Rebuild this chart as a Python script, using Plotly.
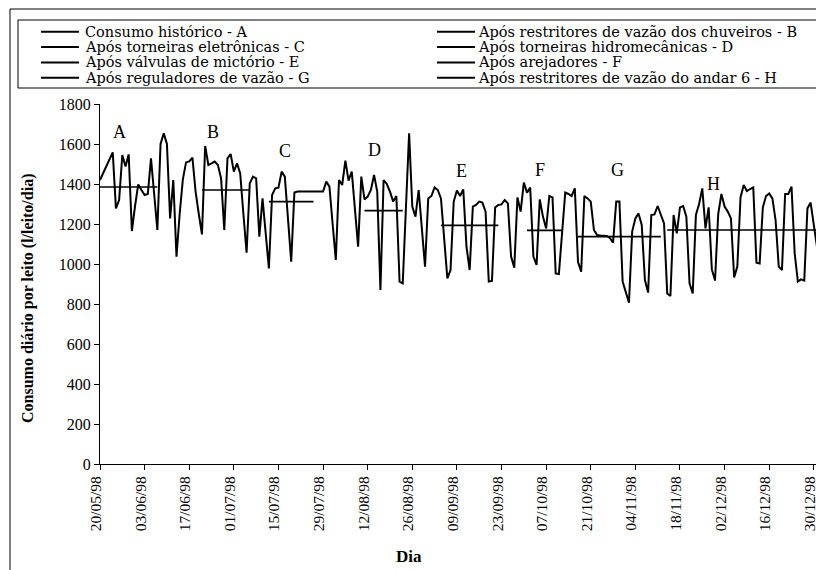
import pandas as pd
import plotly.graph_objects as go

# ---------------- data ----------------
start_date = "1998-05-20"
# daily consumption per bed (l/leito/dia), 20/05/98 ... 31/12/98
consumo = [
    1420, 1455, 1490, 1525, 1558, 1278, 1320, 1545, 1487, 1548,
    1165, 1290, 1398, 1370, 1345, 1350, 1528, 1350, 1170, 1600,
    1653, 1600, 1228, 1420, 1037, 1250, 1423, 1508, 1513, 1532,
    1362, 1250, 1148, 1590, 1495, 1503, 1512, 1495, 1428, 1170,
    1528, 1550, 1462, 1503, 1453, 1250, 1057, 1403, 1437, 1428,
    1137, 1328, 1130, 978, 1345, 1378, 1382, 1462, 1437, 1230,
    1012, 1357, 1362, 1362, 1362, 1362, 1362, 1362, 1362, 1362,
    1362, 1412, 1387, 1200, 1020, 1420, 1395, 1517, 1417, 1462,
    1270, 1087, 1437, 1323, 1337, 1370, 1445, 1362, 870, 1420,
    1400, 1362, 1312, 1340, 912, 903, 1280, 1653, 1287, 1237,
    1370, 1180, 987, 1328, 1340, 1383, 1370, 1328, 1130, 928,
    970, 1312, 1368, 1340, 1373, 1087, 970, 1287, 1295, 1312,
    1307, 1262, 912, 915, 1283, 1295, 1298, 1320, 1303, 1037,
    982, 1333, 1262, 1407, 1357, 1382, 1037, 995, 1323, 1237,
    1178, 1340, 1333, 953, 950, 1150, 1357, 1350, 1340, 1378,
    1010, 962, 1340, 1328, 1312, 1170, 1145, 1142, 1142, 1140,
    1130, 1107, 1312, 1312, 912, 860, 807, 1162, 1228, 1253,
    1195, 920, 857, 1245, 1248, 1290, 1250, 1203, 853, 840,
    1245, 1153, 1283, 1290, 1237, 903, 853, 1245, 1300, 1378,
    1178, 1283, 973, 917, 1250, 1350, 1287, 1262, 1228, 933,
    987, 1333, 1395, 1365, 1375, 1383, 1007, 1003, 1283, 1340,
    1353, 1328, 1220, 987, 970, 1350, 1350, 1387, 1053, 912,
    923, 917, 1278, 1307, 1195, 1087,
]

# period averages
periodo_letra = ["A", "B", "C", "D", "E", "F", "G", "H"]
periodo_nome = [
    "Consumo histórico - A",
    "Após restritores de vazão dos chuveiros - B",
    "Após torneiras eletrônicas - C",
    "Após torneiras hidromecânicas - D",
    "Após válvulas de mictório - E",
    "Após arejadores - F",
    "Após reguladores de vazão - G",
    "Após restritores de vazão do andar 6 - H",
]
periodo_inicio = [0, 32, 53, 83, 107, 134, 150, 178]   # day index
periodo_fim = [18, 47, 67, 95, 125, 145, 176, 225]     # day index
periodo_media = [1385, 1370, 1312, 1267, 1193, 1168, 1137, 1170]

# label positions for the letters (day index, value)
letra_dia = [6, 35.5, 58, 86, 113.5, 138, 162.5, 192.5]
letra_valor = [1660, 1660, 1565, 1570, 1465, 1470, 1470, 1400]

y_ticks = [0, 200, 400, 600, 800, 1000, 1200, 1400, 1600, 1800]

titulo_x = "Dia"
titulo_y = "Consumo diário por leito (l/leito/dia)"

# ---------------- figure ----------------
FONT = "Liberation Serif, Times New Roman, serif"
FONT_LEG = "DejaVu Serif, Liberation Serif, serif"
base = pd.Timestamp(start_date)
dias = [base + pd.Timedelta(days=i) for i in range(len(consumo))]

fig = go.Figure()
fig.add_trace(go.Scatter(
    x=dias, y=consumo, mode="lines",
    line=dict(color="black", width=2),
    showlegend=False, hoverinfo="x+y",
))

for nome, i0, i1, m in zip(periodo_nome, periodo_inicio, periodo_fim, periodo_media):
    xs = [base + pd.Timedelta(days=d) for d in range(i0, i1 + 1)]
    fig.add_trace(go.Scatter(
        x=xs, y=[m] * len(xs), mode="lines",
        line=dict(color="black", width=1.6),
        name=nome, showlegend=False,
    ))

for l, d, v in zip(periodo_letra, letra_dia, letra_valor):
    fig.add_annotation(
        x=base + pd.Timedelta(hours=24 * d), y=v, text=l, showarrow=False,
        font=dict(family=FONT, size=18, color="black"),
        xref="x", yref="y",
    )

# --------- layout geometry ---------
# the page body has an 8px margin, so the figure is drawn 8px in from the
# window corner; it is sized so that it fills the rest of the 824x570 window.
OFF = 8
W, H = 824 - OFF, 570 - OFF
PL, PR, PT, PB = 100, 817, 104, 464       # plot area in window pixels
L, R, T, B = PL - OFF, 824 - PR, PT - OFF, 570 - PB
pw, ph = PR - PL, PB - PT


def px(xs):
    return (xs - PL) / pw


def py(ys):
    return (PB - ys) / ph


shapes = []
# outer frame
shapes.append(dict(type="rect", xref="paper", yref="paper",
                   x0=px(10), x1=px(821.5), y0=py(580), y1=py(9),
                   line=dict(color="black", width=1), fillcolor="rgba(0,0,0,0)"))
# plot-area right edge (grey)
shapes.append(dict(type="line", xref="paper", yref="paper",
                   x0=1, x1=1, y0=0, y1=1,
                   line=dict(color="#999999", width=1)))
# legend box
shapes.append(dict(type="rect", xref="paper", yref="paper",
                   x0=px(18), x1=px(821), y0=py(88), y1=py(20),
                   line=dict(color="black", width=1), fillcolor="white"))

rows_y = [31.8, 47.1, 62.4, 77.7]
col_line = [(41, 79), (437, 475)]
col_text = [83, 476]
for k, nome in enumerate(periodo_nome):
    r, c = divmod(k, 2)
    yl = rows_y[r]
    shapes.append(dict(type="line", xref="paper", yref="paper",
                       x0=px(col_line[c][0]), x1=px(col_line[c][1]),
                       y0=py(yl), y1=py(yl),
                       line=dict(color="black", width=2)))
    fig.add_annotation(
        x=px(col_text[c]), y=py(yl), xref="paper", yref="paper",
        text=nome, showarrow=False, xanchor="left", yanchor="middle",
        font=dict(family=FONT_LEG, size=14.5, color="black"),
    )

# axis titles
fig.add_annotation(
    x=px(409), y=py(556), xref="paper", yref="paper",
    text="<b>%s</b>" % titulo_x, showarrow=False,
    xanchor="center", yanchor="middle",
    font=dict(family=FONT, size=17, color="black"),
)
fig.add_annotation(
    x=px(28), y=py(299), xref="paper", yref="paper",
    text="<b>%s</b>" % titulo_y, showarrow=False, textangle=-90,
    xanchor="center", yanchor="middle",
    font=dict(family=FONT, size=16, color="black"),
)

fig.update_layout(
    width=W, height=H,
    margin=dict(l=L, r=R, t=T, b=B),
    paper_bgcolor="white", plot_bgcolor="white",
    font=dict(family=FONT, color="black", size=14),
    shapes=shapes,
    showlegend=False,
)

fig.update_xaxes(
    type="date", automargin=False,
    range=[base, base + pd.Timedelta(days=len(consumo) - 1)],
    tick0=base, dtick=14 * 24 * 3600 * 1000,
    tickformat="%d/%m/%y", tickangle=-90,
    ticks="outside", ticklen=5, tickcolor="black",
    ticklabelshift=-4,
    showline=True, linecolor="black", linewidth=1,
    showgrid=False, zeroline=False,
    tickfont=dict(family=FONT, size=15.5),
)
fig.update_yaxes(
    automargin=False,
    range=[0, 1800], tickvals=y_ticks,
    ticks="outside", ticklen=5, tickcolor="black",
    showline=True, linecolor="black", linewidth=1,
    showgrid=False, zeroline=False,
    tickfont=dict(family=FONT, size=16),
)

fig.write_html("out.html")
